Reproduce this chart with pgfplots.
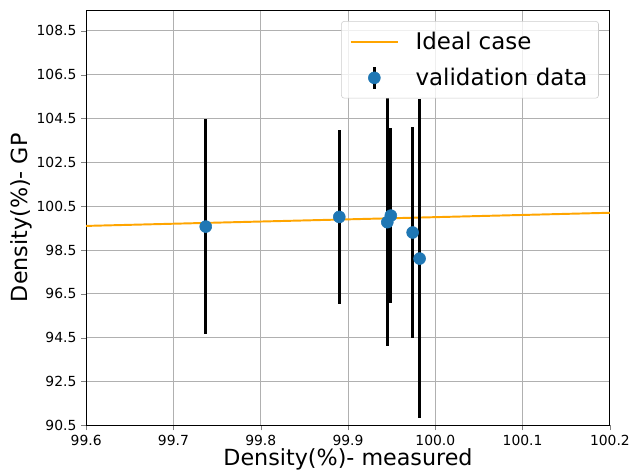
\documentclass[border=0pt]{standalone}
\usepackage{fontspec}
\setmainfont{DejaVu Sans}
\usepackage{pgfplots}
\pgfplotsset{compat=1.18}
\definecolor{mplblue}{HTML}{1F77B4}
\definecolor{mplorange}{HTML}{FFA500}
\definecolor{gridgray}{HTML}{B0B0B0}
\begin{document}
\begin{tikzpicture}
\begin{axis}[
  at={(0,0)}, anchor=south west,
  scale only axis,
  width=377pt, height=299pt,
  xmin=99.6, xmax=100.2,
  ymin=90.5, ymax=109.45,
  xtick={99.6,99.7,99.8,99.9,100.0,100.1,100.2},
  ytick={90.5,92.5,94.5,96.5,98.5,100.5,102.5,104.5,106.5,108.5},
  xticklabel style={/pgf/number format/.cd, fixed, fixed zerofill, precision=1},
  yticklabel style={/pgf/number format/.cd, fixed, fixed zerofill, precision=1},
  /pgf/number format/assume math mode=true,
  tick label style={font=\fontsize{10}{12}\selectfont},
  scaled x ticks=false,
  grid=major,
  grid style={gridgray, line width=0.6pt},
  tick align=outside,
  major tick length=3.5pt,
  xtick pos=left, ytick pos=left,
  axis line style={line width=0.6pt},
  xlabel={Density(\%)- measured},
  ylabel={Density(\%)- GP},
  label style={font=\fontsize{16}{19}\selectfont},
  xlabel style={yshift=5pt},
  ylabel style={yshift=-4pt},
  legend style={at={(1,1)}, anchor=north east, xshift=-8pt, yshift=-8pt,
    draw={rgb,255:red,204;green,204;blue,204}, rounded corners=2pt,
    fill=white, fill opacity=0.8, text opacity=1,
    font=\fontsize{16.5}{19}\selectfont, row sep=8pt, column sep=10pt,
    inner xsep=6pt, inner ysep=5.5pt},
  legend cell align=left,
]
\addplot[mplorange, line width=1.4pt,
  legend image code/.code={\draw[mplorange, line width=1.4pt] (0pt,0pt) -- (34pt,0pt);}]
  coordinates {(99.6,99.6) (100.2,100.2)};
\addlegendentry{Ideal case}
\addplot[only marks, mark=*, mark size=4.3pt, mark options={draw=mplblue, fill=mplblue},
  legend image code/.code={
    \draw[black, line width=2.2pt, draw opacity=1] (17pt,-8pt) -- (17pt,8pt);
    \fill[mplblue, fill opacity=1] (17pt,0pt) circle (4.3pt);},
  error bars/.cd, y dir=both, y explicit,
  error bar style={line width=2.2pt, black}, error mark=none]
  coordinates {
  (99.737, 99.57) +- (0, 4.91)
  (99.890, 100.01) +- (0, 3.96)
  (99.945, 99.77) +- (0, 5.65)
  (99.949, 100.07) +- (0, 3.98)
  (99.974, 99.30) +- (0, 4.80)
  (99.982, 98.11) +- (0, 7.29)
};
\addlegendentry{validation data}
\end{axis}
\pgfresetboundingbox
\path (-62pt,-35.3pt) rectangle (392.9pt,306.2pt);
\end{tikzpicture}
\end{document}
